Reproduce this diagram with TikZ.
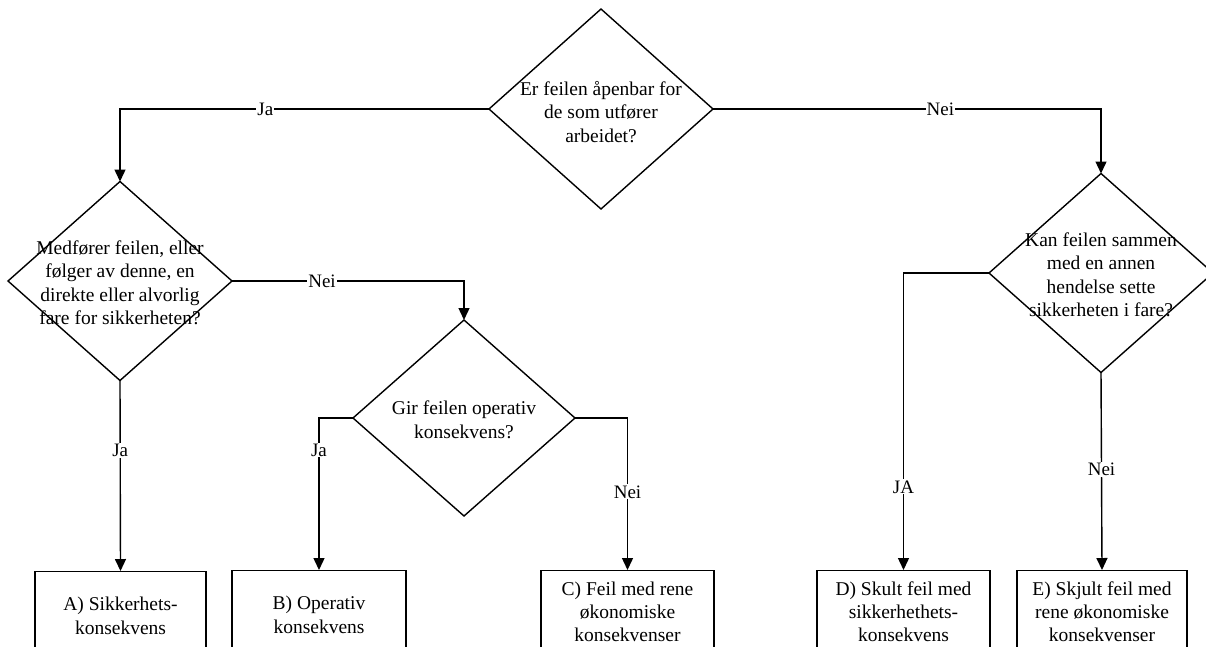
\documentclass[tikz,border=0pt]{standalone}
\usepackage{fontspec}
\setmainfont{Liberation Serif}
\usetikzlibrary{shapes.geometric,arrows.meta}
\begin{document}
\begin{tikzpicture}[x=1pt,y=-1pt,
  dia/.style={draw,diamond,line width=1.4pt,inner sep=0pt,outer sep=0pt},
  dtext/.style={align=center,inner sep=0pt,font=\fontsize{19.5}{23.5}\selectfont},
  box/.style={draw,rectangle,line width=1.4pt,anchor=north,minimum height=88pt,align=center,inner sep=0pt,font=\fontsize{19.5}{23.5}\selectfont},
  box3/.style={box,minimum height=82pt,font=\fontsize{19.5}{23}\selectfont},
  conn/.style={line width=1.4pt,-{Triangle[length=12pt,width=11pt]}},
  lbl/.style={fill=white,inner sep=1pt,font=\fontsize{19}{22}\selectfont}]
\useasboundingbox (0,0) rectangle (1206,646);
\clip (0,0) rectangle (1206,646);
% diamonds
\node[dia,minimum width=224pt,minimum height=200pt] (d1) at (601,109) {};
\node[dtext] (d1t) at (601,112) {Er feilen åpenbar for\\de som utfører\\arbeidet?};
\node[dia,minimum width=224pt,minimum height=199pt] (d2) at (120,281) {};
\node[dtext] (d2t) at (120,283) {Medfører feilen, eller\\følger av denne, en\\direkte eller alvorlig\\fare for sikkerheten?};
\node[dia,minimum width=222pt,minimum height=196pt] (d3) at (464,418) {};
\node[dtext] (d3t) at (464,420) {Gir feilen operativ\\konsekvens?};
\node[dia,minimum width=224pt,minimum height=199pt] (d4) at (1101,273) {};
\node[dtext] (d4t) at (1101,275) {Kan feilen sammen\\med en annen\\hendelse sette\\sikkerheten i fare?};
% boxes
\node[box,minimum width=171pt] (a) at (120.5,571) {A) Sikkerhets-\\konsekvens};
\node[box,minimum width=174pt] (b) at (319,570) {B) Operativ\\konsekvens};
\node[box3,minimum width=173pt] (c) at (627.5,570) {C) Feil med rene\\økonomiske\\konsekvenser};
\node[box3,minimum width=173pt] (d) at (903.5,570) {D) Skult feil med\\sikkerhethets-\\konsekvens};
\node[box3,minimum width=170pt] (e) at (1102,570) {E) Skjult feil med\\rene økonomiske\\konsekvenser};
% connectors
\draw[conn] (d1.west) -| (d2.north) node[lbl,pos=0.303] {Ja};
\draw[conn] (d1.east) -| (d4.north) node[lbl,pos=0.293] {Nei};
\draw[conn] (d2.east) -| (d3.north) node[lbl,pos=0.194] {Nei};
\draw[conn] (d2.south) -- (a.north) node[lbl,pos=0.367] {Ja};
\draw[conn] (d3.west) -| (b.north) node[lbl,pos=0.605] {Ja};
\draw[conn] (d3.east) -| (c.north) node[lbl,pos=0.743] {Nei};
\draw[conn] (d4.west) -| (d.north) node[lbl,pos=0.86] {JA};
\draw[conn] (d4.south) -- (e.north) node[lbl,pos=0.49] {Nei};
\end{tikzpicture}
\end{document}
